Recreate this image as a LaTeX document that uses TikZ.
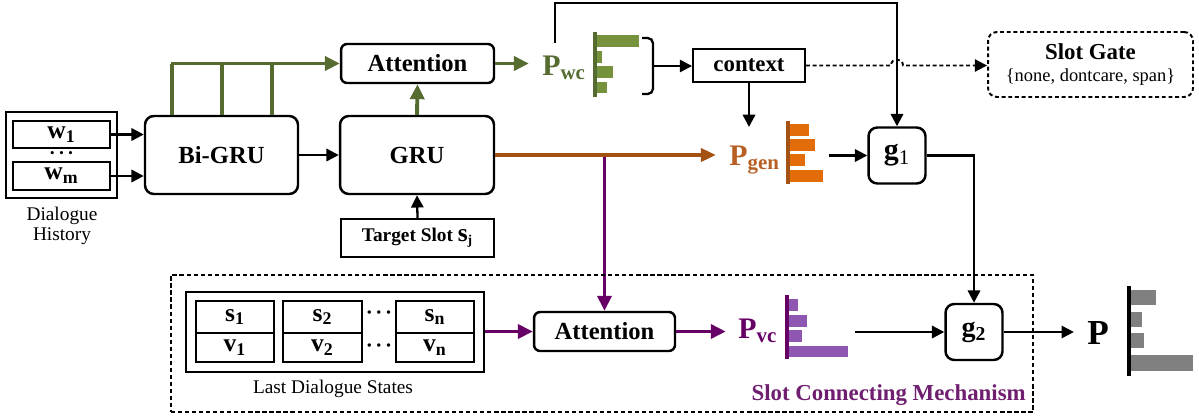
\documentclass[tikz,border=0pt]{standalone}
\usepackage{fontspec}
\setmainfont{Liberation Serif}
\usetikzlibrary{arrows.meta,fit}
\definecolor{gdark}{RGB}{85,107,47}
\definecolor{gbar}{RGB}{118,146,60}
\definecolor{oline}{RGB}{163,82,20}
\definecolor{otext}{RGB}{184,96,36}
\definecolor{obar}{RGB}{226,108,10}
\definecolor{pdark}{RGB}{102,0,102}
\definecolor{pbar}{RGB}{142,88,178}
\definecolor{ptext}{RGB}{112,30,112}
\definecolor{greybar}{RGB}{128,128,128}
\newcommand{\fsz}[1]{\fontsize{#1}{#1}\selectfont}
\newcommand{\mydots}{\textbf{\textperiodcentered\kern1.5pt\textperiodcentered\kern1.5pt\textperiodcentered}}
\begin{document}
\begin{tikzpicture}[x=0.02cm,y=-0.02cm,
  rbox/.style={draw, line width=1.4pt, rounded corners=5pt, font=\fsz{14}\bfseries, inner sep=0},
  gbox/.style={draw, line width=1.4pt, rounded corners=5pt, font=\fsz{17}\bfseries, inner sep=0, minimum width=1.14cm, minimum height=1.12cm},
  sbox/.style={draw, line width=1.1pt, inner sep=0},
  varbox/.style={draw, line width=1.1pt, inner sep=0, font=\fsz{14.5}\bfseries},
  arr/.style={line width=1.3pt, -{Triangle[length=7pt,width=7pt]}},
  plain/.style={line width=1.3pt},
  garr/.style={line width=2.2pt, draw=gdark, -{Triangle[length=8.5pt,width=8pt]}},
  gline/.style={line width=2.2pt, draw=gdark},
  oarr/.style={line width=1.9pt, draw=oline, -{Triangle[length=8.5pt,width=7.5pt]}},
  parr/.style={line width=1.9pt, draw=pdark, -{Triangle[length=8.5pt,width=8pt]}},
  dotarr/.style={line width=1.1pt, dash pattern=on 2.2pt off 1.6pt, -{Triangle[length=7pt,width=7pt]}},
  axis/.style={line width=2pt},
  lbl/.style={inner sep=0, anchor=base west},
  chart/.style={inner sep=0},
  dotlbl/.style={inner sep=0, anchor=base, font=\fsz{11}}
]
\useasboundingbox (0,0) rectangle (1199,416);

% ---------- Dialogue history ----------
\node[sbox, minimum width=2.22cm, minimum height=1.72cm] (hist) at (61.5,155) {};
\node[varbox, minimum width=1.94cm, minimum height=0.54cm] (w1) at (61.5,134.5) {w\textsubscript{1}};
\node[varbox, minimum width=1.94cm, minimum height=0.56cm] (wm) at (61.5,176) {w\textsubscript{m}};
\node[dotlbl] (hdots) at (61.5,159) {\mydots};
\node[inner sep=0, align=center, font=\fsz{11}] (histlbl) at (62,226) {Dialogue\\History};

% ---------- encoder ----------
\node[rbox, minimum width=3.06cm, minimum height=1.56cm] (bigru) at (221.5,155) {Bi-GRU};
\node[rbox, minimum width=3.08cm, minimum height=1.56cm] (gru) at (417,155) {GRU};
\node[sbox, line width=1.3pt, minimum width=3.06cm, minimum height=0.76cm, font=\fsz{11}\bfseries] (target) at (417.5,238) {Target Slot {\fsz{14.5}s}\textsubscript{j}};
\node[rbox, rounded corners=3.5pt, minimum width=3.06cm, minimum height=0.78cm] (att1) at (417.5,63.5) {Attention};

\draw[arr] (w1.east) -- (w1.east -| bigru.west);
\draw[arr] (wm.east) -- (wm.east -| bigru.west);
\draw[arr] (bigru.east) -- (gru.west);
\draw[arr] (target.north) -- (gru.south);
\draw[garr] (gru.north) -- (att1.south);
\foreach \xx in {172,222,272} \draw[gline] (bigru.north -| \xx,0) -- (\xx,0 |- att1.west);
\draw[garr] (170.9,0 |- att1.west) -- (att1.west);

% ---------- P_wc ----------
\node[lbl, text=gdark, font=\fsz{17}\bfseries] (pwc) at (542,75) {P\textsubscript{wc}};
\draw[garr, shorten >=7.5pt] (att1.east) -- (att1.east -| pwc.west);
\fill[gbar] (596,35) rectangle (639,47);
\fill[gbar] (596,51) rectangle (602,63);
\fill[gbar] (596,66) rectangle (613,78);
\fill[gbar] (596,82) rectangle (607,93);
\draw[axis, draw=gdark] (595,32) -- (595,97);
\node[chart, fit={(594,32)(639,97)}] (wcbars) {};
\draw[plain, rounded corners=3pt] (642,38) -- (653,38) -- (653,94) -- (642,94);
\coordinate (brk) at (653,66);

% ---------- context, slot gate ----------
\node[sbox, minimum width=2.24cm, minimum height=0.66cm, font=\fsz{13}\bfseries] (context) at (749,65.5) {context};
\draw[arr] (brk) -- (brk -| context.west);
\node[draw, line width=1.1pt, dash pattern=on 2.2pt off 1.6pt, rounded corners=5pt, minimum width=4.1cm, minimum height=1.3cm, inner sep=0, align=center] (slotgate) at (1090.5,64.5) {{\fsz{13}\bfseries Slot Gate}\\{\fsz{10.5}\{none, dontcare, span\}}};
\draw[dotarr] (context.east) -- (891,0 |- context.east) .. controls +(0,-8) and +(0,-8) .. (903,0 |- context.east) -- (slotgate.west |- context.east);

% ---------- P_gen ----------
\node[lbl, text=otext, font=\fsz{17}\bfseries] (pgen) at (729,165) {P\textsubscript{gen}};
\coordinate (ctip) at (749,127);
\draw[arr] (context.south) -- (ctip);
\fill[obar] (789,124) rectangle (809,136);
\fill[obar] (789,139) rectangle (815,151);
\fill[obar] (789,154) rectangle (805,166);
\fill[obar] (789,170) rectangle (823,182);
\draw[axis, draw=oline] (788,121) -- (788,184);
\node[chart, fit={(787,121)(823,184)}] (genbars) {};

\node[gbox] (g1) at (897,155.5) {g\textsubscript{\mdseries 1}};
\draw[arr, shorten <=3pt] (genbars.east |- g1.west) -- (g1.west);
\coordinate (ts) at (555,43);
\draw[arr] (ts) -- (555,3) -| (g1.north);

% ---------- purple path (drawn before orange) ----------
\node[rbox, rounded corners=3.5pt, minimum width=2.82cm, minimum height=0.78cm] (att2) at (604.5,331.5) {Attention};
\coordinate (pj) at (att2.north |- gru.east);
\draw[parr] (pj) -- (att2.north);
\draw[oarr, shorten >=7.5pt] (gru.east) -- (gru.east -| pgen.west);

% ---------- slot connecting mechanism ----------
\node[draw, line width=1.1pt, dash pattern=on 2.4pt off 1.6pt, inner sep=0, fit={(171,275)(1033,412)}] (mech) {};
\node[sbox, minimum width=5.96cm, minimum height=1.6cm] (lds) at (335,332) {};
\node[varbox, minimum width=1.56cm, minimum height=0.64cm] (s1) at (235,317) {s\textsubscript{1}};
\node[varbox, minimum width=1.56cm, minimum height=0.58cm] (v1) at (235,347.5) {v\textsubscript{1}};
\node[varbox, minimum width=1.58cm, minimum height=0.64cm] (s2) at (322.5,317) {s\textsubscript{2}};
\node[varbox, minimum width=1.58cm, minimum height=0.58cm] (v2) at (322.5,347.5) {v\textsubscript{2}};
\node[varbox, minimum width=1.56cm, minimum height=0.64cm] (sn) at (435,317) {s\textsubscript{n}};
\node[varbox, minimum width=1.56cm, minimum height=0.58cm] (vn) at (435,347.5) {v\textsubscript{n}};
\node[dotlbl, font=\fsz{12}] (sdots) at (379,319) {\mydots};
\node[dotlbl, font=\fsz{12}] (vdots) at (379,352) {\mydots};
\node[inner sep=0, anchor=base, font=\fsz{11}] (ldslbl) at (333,393) {Last Dialogue States};
\draw[parr] (lds.east |- att2.west) -- (att2.west);

\node[lbl, text=pdark, font=\fsz{17}\bfseries] (pvc) at (738,338) {P\textsubscript{vc}};
\draw[parr, shorten >=7pt] (att2.east) -- (att2.east -| pvc.west);
\fill[pbar] (788,299) rectangle (798,311);
\fill[pbar] (788,315) rectangle (807,327);
\fill[pbar] (788,330) rectangle (802,342);
\fill[pbar] (788,346) rectangle (848,357);
\draw[axis, draw=pdark] (787,295) -- (787,359);
\node[chart, fit={(786,295)(848,359)}] (vcbars) {};

\node[gbox, font=\fsz{16}\bfseries] (g2) at (974,332) {g\textsubscript{2}};
\draw[arr, shorten <=4pt] (vcbars.east |- g2.west) -- (g2.west);
\draw[arr] (g1.east) -| (g2.north);

\node[lbl, font=\fsz{20}\bfseries] (pfin) at (1087,344) {P};
\draw[arr, shorten >=7.5pt] (g2.east) -- (g2.east -| pfin.west);
\fill[greybar] (1130,290) rectangle (1156,305);
\fill[greybar] (1130,312) rectangle (1142,327);
\fill[greybar] (1130,333) rectangle (1144,348);
\fill[greybar] (1130,355) rectangle (1193,371);
\draw[line width=2.3pt] (1129,286) -- (1129,376);

\node[inner sep=0, anchor=base east, text=ptext, font=\fsz{13}\bfseries] (mechlbl) at (1026,400) {Slot Connecting Mechanism};
\end{tikzpicture}
\end{document}
